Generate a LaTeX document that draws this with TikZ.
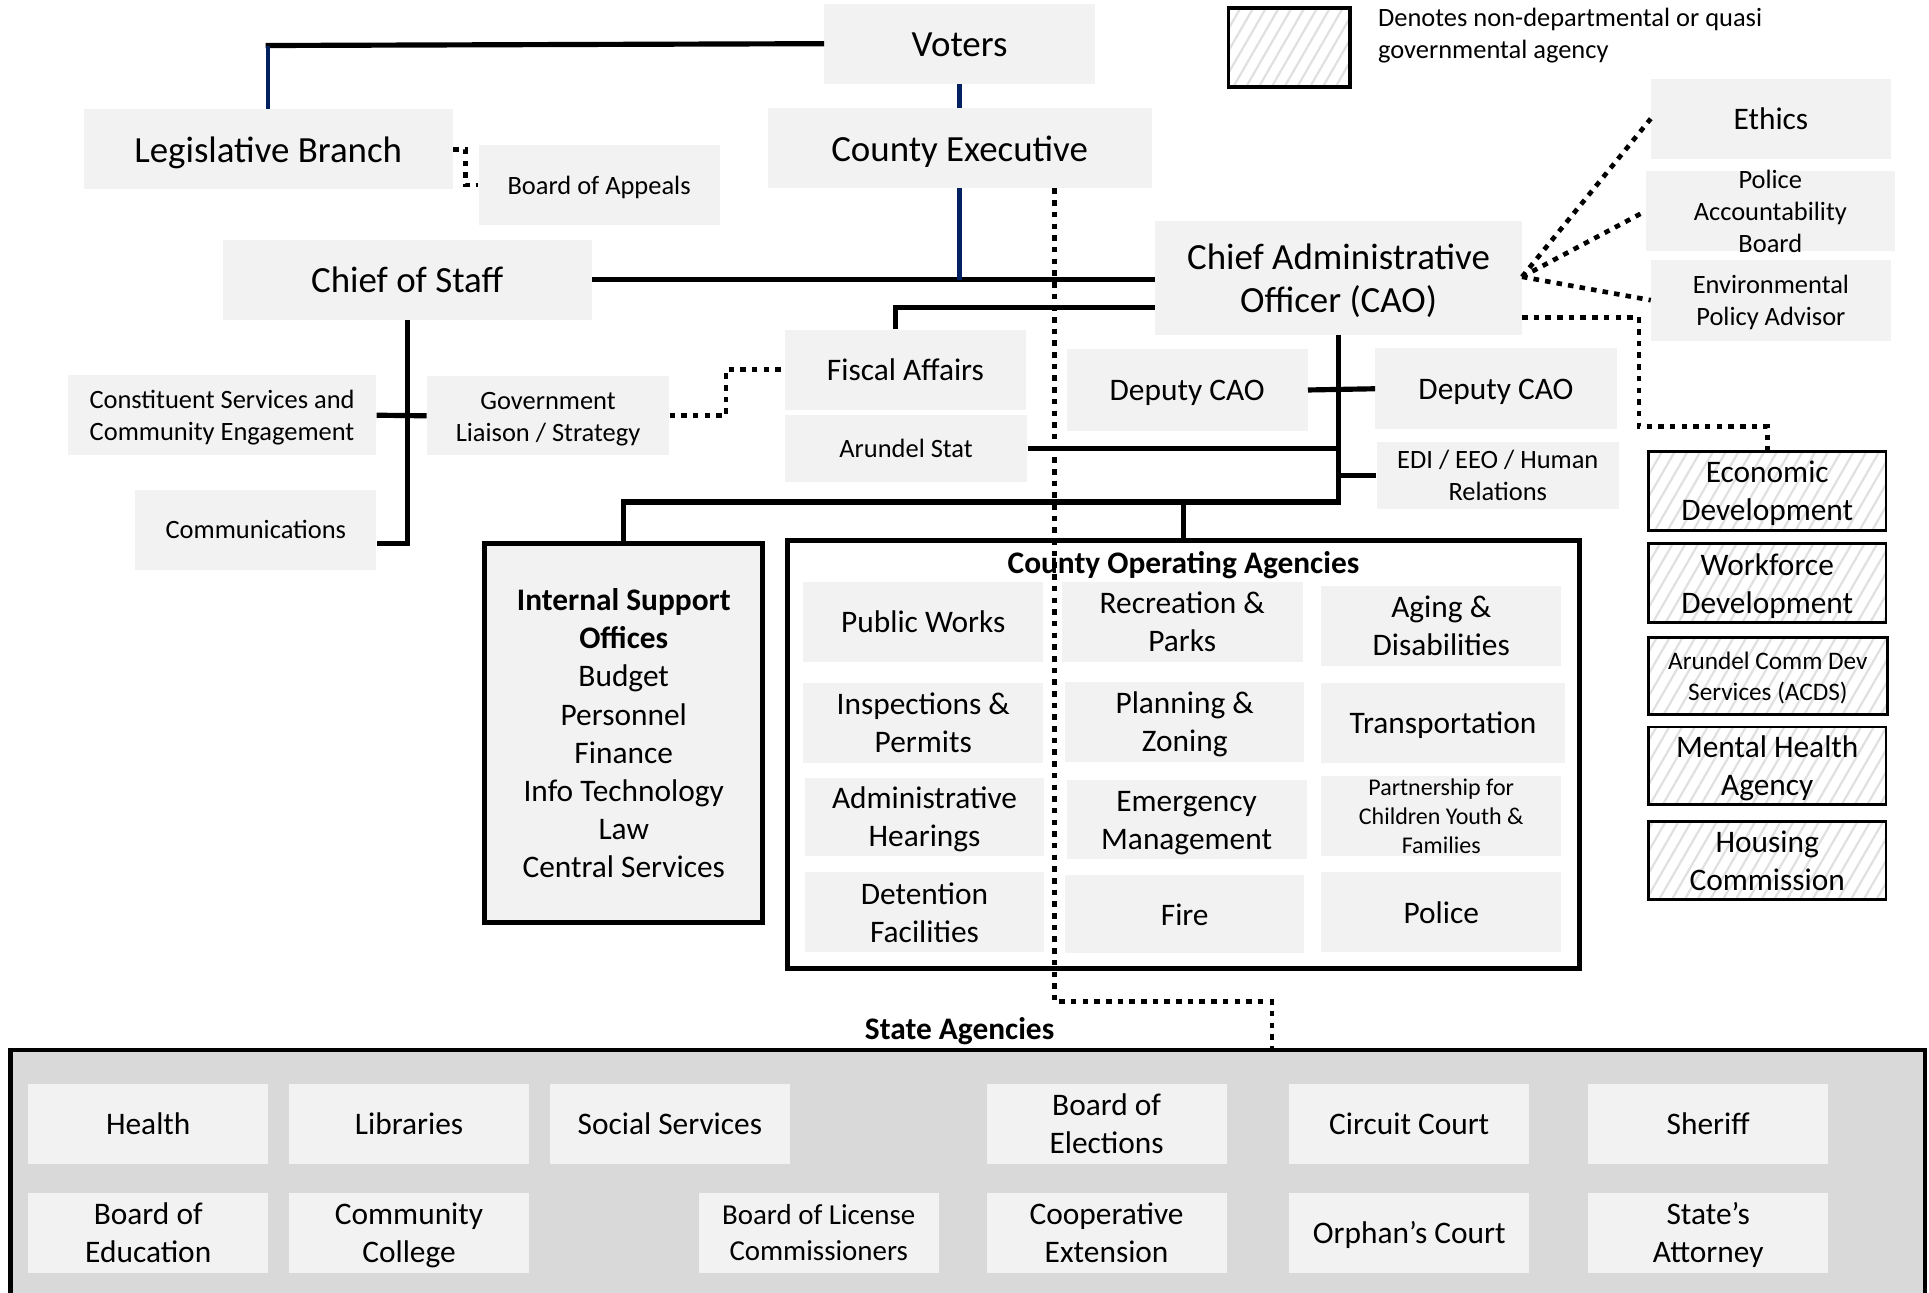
\documentclass[tikz,border=0pt]{standalone}
\usepackage{fontspec}
\setmainfont{Carlito}
\usetikzlibrary{patterns.meta,calc}
\definecolor{boxgray}{HTML}{F2F2F2}
\definecolor{stategray}{HTML}{D9D9D9}
\definecolor{navyline}{HTML}{002060}
\newcommand\fXL{\fontsize{30}{35}\selectfont}
\newcommand\fL{\fontsize{25.5}{31}\selectfont}
\newcommand\fM{\fontsize{21.5}{26}\selectfont}
\newcommand\fLic{\fontsize{23.5}{29}\selectfont}
\newcommand\fAC{\fontsize{20.5}{25}\selectfont}
\newcommand\fPC{\fontsize{19.5}{23.5}\selectfont}
% first line: fixed cap-based height, no depth; other lines: no height/depth
\newcommand\F[1]{\rule{0pt}{0.7em}\smash{#1}}
\newcommand\G[1]{\smash{#1}}
\begin{document}
\begin{tikzpicture}[x=1pt,y=-1pt,
  sz/.style 2 args={minimum width=#1pt, minimum height=#2pt},
  gbox/.style={fill=boxgray, inner sep=0pt, align=center, font=\fL},
  hbox/.style={draw=black, line width=2.3pt, pattern={Lines[angle=60,distance=9pt,line width=1.8pt]}, pattern color=black!12, inner sep=0pt, align=center, font=\fL},
  txt/.style={inner sep=0pt, align=center},
  conn/.style={line width=4.2pt, line join=miter},
  bconn/.style={line width=3.5pt, draw=navyline},
  dotc/.style={line width=3.8pt, dash pattern=on 4.5pt off 5pt},
]
\useasboundingbox (0,0) rectangle (1568,1051);
\clip (0,0) rectangle (1568,1051);

% ---------- top ----------
\node[gbox, font=\fXL, sz={220}{65}] (voters) at (780,35.5) {\F{Voters}};
\node[gbox, font=\fXL, sz={312}{65}] (ce) at (780,120.5) {\F{County Executive}};
\node[gbox, font=\fXL, sz={300}{65}] (lb) at (218,121.5) {\F{Legislative Branch}};
\node[gbox, font=\fM, sz={196}{65}] (boa) at (487,150.5) {\F{Board of Appeals}};
\node[gbox, font=\fXL, sz={300}{65}] (cos) at (331,227.5) {\F{Chief of Staff}};
\node[gbox, font=\fXL, sz={298}{92}] (cao) at (1088,226) {\F{Chief Administrative}\\\G{Officer (CAO)}};

% legend
\node[hbox, line width=3pt, sz={99}{64}] (legend) at (1048,38.5) {};
\node[txt, font=\fM, align=left, anchor=west] (legtxt) at (1120,27) {\F{Denotes non-departmental or quasi}\\\G{governmental agency}};

% right advisory boxes
\node[gbox, sz={195}{65}] (ethics) at (1439.5,96.5) {\F{Ethics}};
\node[gbox, sz={202}{65}] (pab) at (1439,171.5) {};
\node[txt, font=\fM] (pabt) at (pab.center) {\F{Police}\\\G{Accountability}\\\G{Board}};
\node[gbox, font=\fM, sz={195}{66}] (epa) at (1439.5,244) {\F{Environmental}\\\G{Policy Advisor}};

% chief of staff offices
\node[gbox, font=\fM, sz={251}{65}] (cs) at (180.5,337.5) {\F{Constituent Services and}\\\G{Community Engagement}};
\node[gbox, font=\fM, sz={196}{65}] (comm) at (208,430.5) {\F{Communications}};
\node[gbox, font=\fM, sz={197}{64}] (gl) at (445.5,338) {\F{Government}\\\G{Liaison / Strategy}};

% CAO offices
\node[gbox, sz={196}{65}] (fa) at (736,300.5) {\F{Fiscal Affairs}};
\node[gbox, font=\fM, sz={197}{55}] (as) at (736.5,364.5) {\F{Arundel Stat}};
\node[gbox, sz={196}{66}] (dl) at (965,317) {\F{Deputy CAO}};
\node[gbox, sz={196}{66}] (dr) at (1216,316) {\F{Deputy CAO}};
\node[gbox, font=\fM, sz={197}{55}] (edi) at (1217.5,386.5) {\F{EDI / EEO / Human}\\\G{Relations}};

% internal support offices
\node[draw, line width=4pt, fill=boxgray, inner sep=0pt, align=center, font=\fL, sz={226}{308}] (iso) at (507,596)
  {\F{\textbf{Internal Support}}\\\G{\textbf{Offices}}\\\G{Budget}\\\G{Personnel}\\\G{Finance}\\\G{Info Technology}\\\G{Law}\\\G{Central Services}};

% county operating agencies
\node[draw, line width=4pt, fill=white, sz={644}{348}] (coa) at (962,613) {};
\node[txt, font=\bfseries\fL] (coat) at (962,457) {\F{County Operating Agencies}};
\node[gbox, sz={195}{65}] (pw) at (750.5,505.5) {\F{Public Works}};
\node[gbox, sz={195}{65}] (ip) at (750.5,587.5) {\F{Inspections \&}\\\G{Permits}};
\node[gbox, sz={195}{64}] (ah) at (751.5,664) {\F{Administrative}\\\G{Hearings}};
\node[gbox, sz={195}{65}] (df) at (751.5,741.5) {\F{Detention}\\\G{Facilities}};
\node[gbox, sz={196}{65}] (rp) at (961,505.5) {\F{Recreation \&}\\\G{Parks}};
\node[gbox, sz={194}{65}] (pz) at (963,586.5) {\F{Planning \&}\\\G{Zoning}};
\node[gbox, sz={195}{64}] (em) at (964.5,666) {\F{Emergency}\\\G{Management}};
\node[gbox, sz={194}{64}] (fire) at (963,743) {\F{Fire}};
\node[gbox, sz={195}{65}] (ad) at (1171.5,508.5) {\F{Aging \&}\\\G{Disabilities}};
\node[gbox, sz={198}{65}] (tr) at (1173,587.5) {\F{Transportation}};
\node[gbox, sz={195}{65}] (pcyf) at (1171.5,663.5) {};
\node[txt, font=\fPC] (pcyft) at (pcyf.center) {\F{Partnership for}\\\G{Children Youth \&}\\\G{Families}};
\node[gbox, sz={195}{65}] (pol) at (1171.5,741.5) {\F{Police}};

% quasi governmental agencies
\node[hbox, sz={193}{64}] (ed) at (1436.5,399) {\F{Economic}\\\G{Development}};
\node[hbox, sz={193}{64}] (wd) at (1436.5,474) {\F{Workforce}\\\G{Development}};
\node[hbox, font=\fAC, sz={194}{63}] (acds) at (1437,549.5) {\F{Arundel Comm Dev}\\\G{Services (ACDS)}};
\node[hbox, sz={193}{63}] (mha) at (1436.5,622.5) {\F{Mental Health}\\\G{Agency}};
\node[hbox, sz={193}{63}] (hc) at (1436.5,699.5) {\F{Housing}\\\G{Commission}};

% state agencies
\node[draw, line width=3.5pt, fill=stategray, inner sep=0pt, sz={1556}{221.5}] (state) at (786.5,964.25) {};
\node[txt, font=\bfseries\fL] (statet) at (780,836) {\F{State Agencies}};
\node[gbox, sz={195}{65}] (health) at (120.5,913.5) {\F{Health}};
\node[gbox, sz={195}{65}] (lib) at (332.5,913.5) {\F{Libraries}};
\node[gbox, sz={195}{65}] (ss) at (544.5,913.5) {\F{Social Services}};
\node[gbox, sz={195}{65}] (belec) at (899.5,913.5) {\F{Board of}\\\G{Elections}};
\node[gbox, sz={195}{65}] (cc) at (1145.5,913.5) {\F{Circuit Court}};
\node[gbox, sz={195}{65}] (sher) at (1388.5,913.5) {\F{Sheriff}};
\node[gbox, sz={195}{65}] (bedu) at (120.5,1002) {\F{Board of}\\\G{Education}};
\node[gbox, sz={195}{65}] (ccol) at (332.5,1002) {\F{Community}\\\G{College}};
\node[gbox, font=\fLic, sz={195}{65}] (blc) at (665.5,1002) {\F{Board of License}\\\G{Commissioners}};
\node[gbox, sz={195}{65}] (coop) at (899.5,1002) {\F{Cooperative}\\\G{Extension}};
\node[gbox, sz={195}{65}] (orph) at (1145.5,1002) {\F{Orphan’s Court}};
\node[gbox, sz={195}{65}] (sta) at (1388.5,1002) {\F{State’s}\\\G{Attorney}};

% ---------- connectors ----------
\coordinate (lbtop) at (218,37);
\draw[conn] (voters.west) -- ([xshift=-2pt]lbtop);
\draw[bconn] (lbtop) -- (lb.north);
\draw[bconn] (voters.south) -- (ce.north);
\draw[conn] (cos.east) -- (cao.west |- cos.east);
\draw[bconn] (ce.south) -- (ce.south |- cos.east);

\draw[conn] (cos.south) |- ([yshift=-11.5pt]comm.east);
\draw[conn] (cs.east) -- (gl.west);

\draw[conn] ([xshift=-8pt]fa.north) |- ([yshift=-24pt]cao.west);
\coordinate (hub) at (1088,408);
\draw[conn] (cao.south) -- (hub) -- (iso.north |- hub) -- (iso.north);
\draw[conn] (coa.north |- hub) -- (coa.north);
\draw[conn] (dl.east) -- (dr.west);
\draw[conn] (as.east) -- (as.east -| cao.south);
\draw[conn] (edi.west) -- (edi.west -| cao.south);

% dotted connectors
\draw[dotc] (lb.east) -- ++(10,0) |- (boa.west);
\draw[dotc] (gl.east) -- ++(46,0) |- (fa.west);
\draw[dotc] ([yshift=1pt]cao.east) -- (ethics.west);
\draw[dotc] ([yshift=1pt]cao.east) -- (pab.west);
\draw[dotc] ([yshift=1pt]cao.east) -- (epa.west);
\draw[dotc] ([yshift=-32pt]cao.east) -- ++(95,0) |- ([yshift=19pt]ed.north) -- (ed.north);
\draw[dotc] ([xshift=77pt]ce.south) -- ++(0,661) -| ([xshift=247.5pt]state.north);
\end{tikzpicture}
\end{document}
